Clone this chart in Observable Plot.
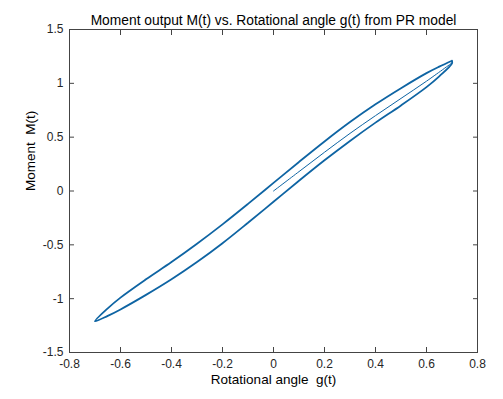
<!DOCTYPE html>
<html>
<head>
<meta charset="utf-8">
<script src="https://cdn.jsdelivr.net/npm/d3@7"></script>
<script src="https://cdn.jsdelivr.net/npm/@observablehq/plot@0.6"></script>
<style>
  html, body { margin: 0; padding: 0; background: #fff; }
</style>
</head>
<body>
<div id="chart"></div>
<script>
// Rotational angle samples (rad)
const loopG = [-0.7, -0.65, -0.6, -0.5, -0.4, -0.3, -0.2, -0.1, 0, 0.1, 0.2, 0.3, 0.4, 0.5, 0.6, 0.65, 0.7];
// Descending (upper) branch of the hysteresis loop
const upperM = [-1.21, -1.09, -0.99, -0.82, -0.66, -0.49, -0.31, -0.12, 0.075, 0.27, 0.46, 0.64, 0.805, 0.955, 1.095, 1.155, 1.21];
// Ascending (lower) branch of the hysteresis loop
const lowerM = [-1.21, -1.16, -1.10, -0.965, -0.82, -0.66, -0.485, -0.295, -0.10, 0.095, 0.285, 0.465, 0.635, 0.795, 0.965, 1.065, 1.185];
// Initial loading curve from the origin
const initG = [0, 0.1, 0.2, 0.3, 0.4, 0.5, 0.6, 0.7];
const initM = [0, 0.18, 0.36, 0.535, 0.70, 0.86, 1.02, 1.19];

const xTicks = [-0.8, -0.6, -0.4, -0.2, 0, 0.2, 0.4, 0.6, 0.8];
const yTicks = [-1.5, -1, -0.5, 0, 0.5, 1, 1.5];

const titleText = "Moment output M(t) vs. Rotational angle g(t) from PR model";
const xLabel = "Rotational angle  g(t)";
const yLabel = "Moment  M(t)";

// Build the closed loop: upper branch right->left, then lower branch left->right
const loop = [];
for (let i = loopG.length - 1; i >= 0; i--) loop.push({g: loopG[i], m: upperM[i]});
for (let i = 1; i < loopG.length; i++) loop.push({g: loopG[i], m: lowerM[i]});
loop.push({g: loopG[loopG.length - 1], m: upperM[upperM.length - 1]});
const initial = initG.map((g, i) => ({g, m: initM[i]}));

const fmt = d => String(d);
const axisColor = "#262626";
const lineColor = "#0e64a3";

const chart = Plot.plot({
  width: 503,
  height: 399,
  marginLeft: 69,
  marginRight: 26,
  marginTop: 29,
  marginBottom: 47,
  style: {fontFamily: "'Liberation Sans', Arial, Helvetica, sans-serif", fontSize: "12px", color: axisColor, background: "#fff"},
  x: {domain: [-0.8, 0.8], ticks: xTicks},
  y: {domain: [-1.5, 1.5], ticks: yTicks},
  marks: [
    Plot.frame({stroke: "#444"}),
    Plot.line(loop, {x: "g", y: "m", stroke: lineColor, strokeWidth: 1.8, curve: "catmull-rom", strokeLinejoin: "miter"}),
    Plot.line(initial, {x: "g", y: "m", stroke: lineColor, strokeWidth: 1, curve: "catmull-rom"}),
    Plot.axisX(xTicks, {anchor: "bottom", tickSize: -5, tickPadding: 12, tickFormat: fmt, label: null, stroke: "#444", fill: axisColor}),
    Plot.axisX(xTicks, {anchor: "top", tickSize: -5, tickFormat: () => "", label: null, stroke: "#444"}),
    Plot.axisY(yTicks, {anchor: "left", tickSize: -5, tickPadding: 11, tickFormat: fmt, label: null, stroke: "#444", fill: axisColor}),
    Plot.axisY(yTicks, {anchor: "right", tickSize: -5, tickFormat: () => "", label: null, stroke: "#444"}),
    Plot.text([titleText], {frameAnchor: "top", dy: -14, text: d => d, fontSize: 13.8, fill: "#000"}),
    Plot.text([xLabel], {frameAnchor: "bottom", dy: 31, text: d => d, fontSize: 13.5, fill: "#000"}),
    Plot.text([yLabel], {frameAnchor: "left", dx: -39, rotate: -90, text: d => d, fontSize: 13.5, fill: "#000"})
  ]
});
document.getElementById("chart").appendChild(chart);
d3.select(chart).selectAll("text").style("white-space", "pre");
</script>
</body>
</html>
